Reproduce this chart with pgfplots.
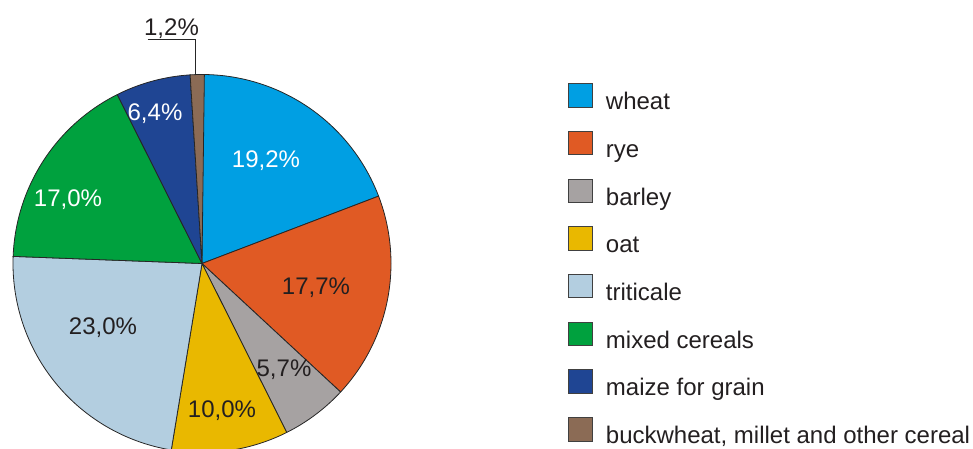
\documentclass[border=0pt]{standalone}
\usepackage{fontspec}
\setmainfont{Liberation Sans}
\usepackage{pgfplots}
\pgfplotsset{compat=1.18}
\definecolor{wheatc}{RGB}{0,159,227}
\definecolor{ryec}{RGB}{224,90,36}
\definecolor{barleyc}{RGB}{166,162,162}
\definecolor{oatc}{RGB}{233,184,0}
\definecolor{triticalec}{RGB}{179,206,224}
\definecolor{mixedc}{RGB}{0,161,62}
\definecolor{maizec}{RGB}{31,69,147}
\definecolor{buckc}{RGB}{139,107,85}
\definecolor{txt}{RGB}{35,31,32}
% slice: start (cumulative %), end (cumulative %), colour
\newcommand{\slice}[3]{%
  \addplot[fill=#3, draw=black!85, line width=0.4pt, domain=#1:#2, samples=80, variable=\t, forget plot]
    ({202+189*cos(90-3.6*\t)},{185.5+189*sin(90-3.6*\t)}) -- (axis cs:202,185.5) -- cycle;}
\begin{document}
\begin{tikzpicture}
\path[use as bounding box] (0,0) rectangle (486.5pt,224.5pt);
\begin{axis}[
  at={(0,0)}, anchor=origin,
  scale only axis, width=486.5pt, height=224.5pt,
  xmin=0, xmax=973, ymin=0, ymax=449,
  hide axis,
  legend cell align=left,
  legend image code/.code={\draw[#1, draw=black!75, line width=0.5pt] (0pt,-2.2pt) rectangle (11.8pt,9.5pt);},
  legend style={at={(0.5841,0.8145)}, anchor=north west, draw=none, fill=none,
    inner sep=0pt, outer sep=0pt, row sep=8.1pt,
    font=\fontsize{12}{14}\selectfont, text=txt,
    nodes={inner sep=0pt, text height=9.5pt, text depth=2.5pt},
    /tikz/every odd column/.append style={column sep=6.5pt}},
]
\slice{0}{19.2}{wheatc}
\slice{19.2}{36.9}{ryec}
\slice{36.9}{42.6}{barleyc}
\slice{42.6}{52.6}{oatc}
\slice{52.6}{75.6}{triticalec}
\slice{75.6}{92.6}{mixedc}
\slice{92.6}{99.0}{maizec}
\slice{99.0}{100.2}{buckc}
\addplot[draw=black!85, line width=0.5pt, forget plot] coordinates {(147.7,409.7) (195.5,409.7) (195.5,374)};
\addlegendimage{fill=wheatc}
\addlegendimage{fill=ryec}
\addlegendimage{fill=barleyc}
\addlegendimage{fill=oatc}
\addlegendimage{fill=triticalec}
\addlegendimage{fill=mixedc}
\addlegendimage{fill=maizec}
\addlegendimage{fill=buckc}
\legend{wheat, rye, barley, oat, triticale, mixed cereals, maize for grain, {buckwheat, millet and other cereal}}
\begin{scope}[every node/.style={font=\fontsize{12}{14}\selectfont, inner sep=0pt}]
\node[white] at (axis cs:266,288) {19,2\%};
\node[txt] at (axis cs:316,161) {17,7\%};
\node[txt] at (axis cs:284,79) {5,7\%};
\node[txt] at (axis cs:222,38) {10,0\%};
\node[txt] at (axis cs:103,121) {23,0\%};
\node[white] at (axis cs:68,249) {17,0\%};
\node[white] at (axis cs:155,335) {6,4\%};
\node[txt] at (axis cs:171.5,420) {1,2\%};
\end{scope}
\end{axis}
\end{tikzpicture}
\end{document}
